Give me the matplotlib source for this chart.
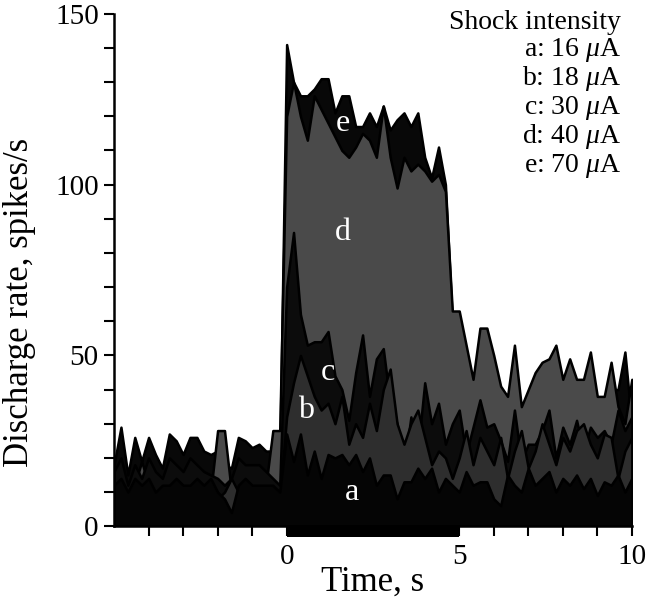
import numpy as np
import matplotlib
matplotlib.use("Agg")
import matplotlib.pyplot as plt
from matplotlib.patches import Rectangle
from matplotlib.transforms import blended_transform_factory

plt.rcParams['font.family'] = ['Liberation Serif', 'DejaVu Serif']
plt.rcParams['mathtext.fontset'] = 'custom'
plt.rcParams['mathtext.rm'] = 'Liberation Serif'
plt.rcParams['mathtext.it'] = 'Liberation Serif:italic'

# time bins (0.2 s) from -5 to 10 s
time_s = np.round(np.arange(-5.0, 10.001, 0.2), 1)

# discharge rate (spikes/s) per shock intensity
rate_e = [18, 29, 15, 26, 19, 26, 21, 17, 27, 25, 21, 26, 26, 22, 21, 22, 18, 17, 26, 25, 23, 24, 22, 22, 20,
          141, 130, 126, 126, 128, 131, 131, 121, 126, 126, 117, 117, 121, 117, 123, 116, 119, 121, 117, 121,
          108, 102, 111, 100, 60,
          55, 45, 38, 50, 50, 42, 36, 34, 45, 30, 35, 40, 42, 44, 48, 38, 42, 38, 36, 45, 32, 30, 40, 40, 51, 30]
rate_d = [10, 12, 8, 12, 19, 12, 10, 10, 14, 10, 12, 12, 10, 12, 10, 28, 28, 10, 12, 12, 10, 12, 12, 28, 28,
          120, 130, 120, 113, 126, 122, 118, 114, 110, 108, 111, 115, 113, 108, 123, 108, 99, 108, 104, 106,
          104, 101, 103, 98, 63,
          63, 53, 43, 58, 58, 50, 41, 38, 53, 35, 40, 45, 48, 49, 53, 43, 49, 43, 43, 51, 38, 38, 48, 35, 30, 43]
rate_c = [16, 20, 12, 18, 14, 20, 16, 14, 20, 18, 16, 20, 18, 16, 15, 14, 12, 14, 20, 18, 18, 18, 16, 14, 12,
          70, 86, 62, 53, 54, 54, 57, 44, 40, 31, 45, 56, 38, 49, 52, 36, 30, 17, 32, 22, 42, 30, 36, 24, 30,
          34, 21, 29, 37, 29, 30, 25, 19, 34, 19, 24, 24, 28, 34, 20, 29, 24, 31, 22, 29, 26, 28, 24, 34, 28, 32]
rate_b = [8, 10, 6, 10, 10, 8, 8, 6, 10, 10, 8, 10, 10, 8, 10, 8, 10, 14, 10, 10, 8, 10, 10, 10, 8,
          32, 42, 50, 44, 38, 34, 36, 30, 38, 24, 30, 26, 36, 28, 40, 46, 30, 24, 30, 34, 26, 18, 22, 20, 14,
          20, 28, 18, 26, 22, 18, 26, 14, 22, 28, 17, 22, 30, 24, 18, 26, 22, 28, 30, 24, 20, 27, 26, 14, 22, 26]
rate_a = [12, 14, 10, 14, 12, 14, 10, 12, 12, 14, 12, 12, 14, 12, 14, 10, 8, 4, 12, 14, 12, 12, 12, 12, 10,
          27, 19, 27, 15, 22, 14, 21, 20, 21, 18, 21, 16, 20, 12, 15, 15, 8, 13, 13, 17, 14, 17, 10, 14, 12,
          10, 16, 12, 13, 13, 8, 6, 15, 12, 10, 17, 12, 14, 16, 10, 14, 12, 15, 11, 14, 9, 13, 12, 15, 10, 14]

# back to front
layers = [(rate_e, '#080808'), (rate_d, '#4a4a4a'), (rate_c, '#0c0c0c'),
          (rate_b, '#2e2e2e'), (rate_a, '#050505')]
labels = ['e', 'd', 'c', 'b', 'a']
label_pos = [(1.62, 118), (1.62, 86), (1.19, 45), (0.55, 34), (1.88, 10)]
legend_lines = ['Shock intensity', 'a: 16 $\\mu$A', 'b: 18 $\\mu$A', 'c: 30 $\\mu$A',
                'd: 40 $\\mu$A', 'e: 70 $\\mu$A']

fig = plt.figure(figsize=(6.48, 6.0), dpi=100)
ax = fig.add_axes([0.176, 0.123, 0.799, 0.854])

for vals, col in layers:
    ax.fill_between(time_s, 0, vals, facecolor=col, edgecolor='black', linewidth=1.8)

for lab, (x, y) in zip(labels, label_pos):
    ax.text(x, y, lab, color='white', fontsize=23, ha='center', va='center')

ax.set_xlim(-5, 10)
ax.set_ylim(0, 150)
ax.spines['top'].set_visible(False)
ax.spines['right'].set_visible(False)
ax.spines['left'].set_linewidth(1.8)
ax.spines['bottom'].set_linewidth(1.8)

ax.set_xticks([0, 5, 10])
ax.set_xticks([-4, -3, -2, -1, 1, 2, 3, 4, 6, 7, 8, 9], minor=True)
ax.set_yticks([0, 50, 100, 150])
ax.set_yticks(range(0, 151, 10), minor=True)
ax.tick_params(which='both', direction='out', length=7, width=1.5, labelsize=21, pad=4)
ax.tick_params(axis='x', which='both', pad=6)

# stimulus bar 0-5 s
trans = blended_transform_factory(ax.transData, ax.transAxes)
ax.add_patch(Rectangle((0, -0.022), 5, 0.022, transform=trans, facecolor='black',
                       edgecolor='none', clip_on=False))

fig.text(373 / 648, 1 - 582 / 600, 'Time, s', fontsize=25, ha='center', va='center')
fig.text(20 / 648, 1 - 302 / 600, 'Discharge rate, spikes/s', fontsize=25, rotation=90,
         ha='center', va='center')
fig.text(621 / 648, 1 - 10 / 600, '\n'.join(legend_lines), fontsize=20, ha='right', va='top',
         multialignment='right', linespacing=1.03)

fig.savefig('out.png', dpi=100)
